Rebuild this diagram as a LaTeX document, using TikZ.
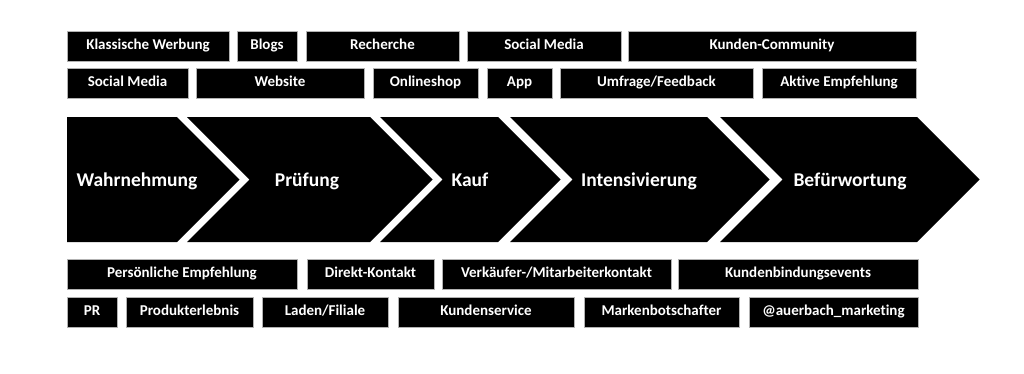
\documentclass[tikz,border=0pt]{standalone}
\usepackage{fontspec}
\setmainfont{Carlito}[Ligatures=NoCommon]

\begin{document}
\begin{tikzpicture}[x=1pt, y=-1pt,
  tag/.style={fill=black, draw=gray!60, line width=0.6pt, text=white,
    font=\fontsize{15}{16}\selectfont\bfseries,
    minimum height=30pt, inner sep=0pt, text height=0.72em, text depth=0pt},
  stage/.style={text=white, font=\fontsize{19.5}{22}\selectfont\bfseries,
    inner sep=0pt, anchor=base}]
% Canvas
\fill[white] (0,0) rectangle (1024,373);
\useasboundingbox (0,0) rectangle (1024,373);
% Top rows
\foreach \a/\b/\t [count=\i] in {67/229/Klassische Werbung, 237/297/Blogs,
    306/459/Recherche, 467/621/Social Media, 628/916/Kunden-Community} {
    \node[tag, minimum width={(\b-\a)*1pt}] (top1-\i) at ({(\a+\b)/2},46) {\t};
}
\foreach \a/\b/\t [count=\i] in {67/188/Social Media, 196/364/Website,
    373/478/Onlineshop, 487/552/App, 560/753/{Umfrage/Feedback},
    762/916/Aktive Empfehlung} {
    \node[tag, minimum width={(\b-\a)*1pt}] (top2-\i) at ({(\a+\b)/2},83) {\t};
}
% Chevrons
\foreach \l/\r/\n/\c/\t [count=\i] in {67/177/0/137/Wahrnehmung,
    187/370/62.5/307/Prüfung, 380/498/62.5/470/Kauf,
    510/707/62.5/639/Intensivierung, 720/917/62.5/850/Befürwortung} {
    \fill[black] (\l,117) -- (\r,117) -- ++(62.5,62.5) -- (\r,242) -- (\l,242) -- ++(\n,-62.5) -- cycle;
    \node[stage] (stage-\i) at (\c,186.5) {\t};
}
% Bottom rows
\foreach \a/\b/\t [count=\i] in {67/297/Persönliche Empfehlung,
    307/434/Direkt-Kontakt, 442/671/{Verkäufer-/Mitarbeiterkontakt},
    678/918/Kundenbindungsevents} {
    \node[tag, minimum width={(\b-\a)*1pt}] (bot1-\i) at ({(\a+\b)/2},274) {\t};
}
\foreach \a/\b/\t [count=\i] in {67/117/PR, 126/253/Produkterlebnis,
    262/388/{Laden/Filiale}, 398/574/Kundenservice,
    584/739/Markenbotschafter, 749/918/@auerbach\_marketing} {
    \node[tag, minimum width={(\b-\a)*1pt}] (bot2-\i) at ({(\a+\b)/2},312) {\t};
}
\end{tikzpicture}
\end{document}
